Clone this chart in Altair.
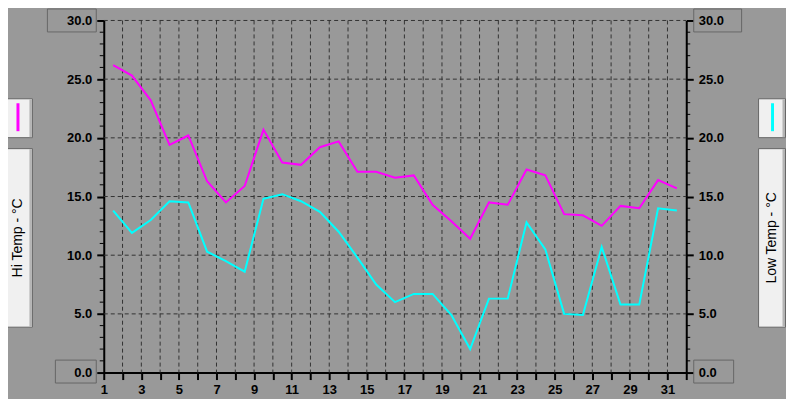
import altair as alt
import pandas as pd

# ---- data ----
days = [1.5, 2.5, 3.5, 4.5, 5.5, 6.5, 7.5, 8.5, 9.5, 10.5, 11.5, 12.5, 13.5, 14.5, 15.5,
        16.5, 17.5, 18.5, 19.5, 20.5, 21.5, 22.5, 23.5, 24.5, 25.5, 26.5, 27.5, 28.5,
        29.5, 30.5, 31.5]
hi_temp = [26.2, 25.3, 23.2, 19.4, 20.2, 16.3, 14.5, 15.9, 20.7, 17.9, 17.7, 19.2, 19.7,
           17.1, 17.1, 16.6, 16.8, 14.3, 12.9, 11.4, 14.5, 14.3, 17.3, 16.8, 13.5, 13.4,
           12.5, 14.2, 14.0, 16.4, 15.7]
low_temp = [13.8, 11.9, 13.0, 14.6, 14.5, 10.3, 9.5, 8.6, 14.8, 15.2, 14.6, 13.7, 12.0,
            9.8, 7.5, 6.0, 6.7, 6.7, 4.9, 2.0, 6.3, 6.3, 12.8, 10.5, 5.0, 4.9, 10.7, 5.8,
            5.8, 14.0, 13.8]
x_ticks = [1, 2, 3, 4, 5, 6, 7, 8, 9, 10, 11, 12, 13, 14, 15, 16, 17, 18, 19, 20, 21, 22,
           23, 24, 25, 26, 27, 28, 29, 30, 31, 32]
x_grid = [2, 3, 4, 5, 6, 7, 8, 9, 10, 11, 12, 13, 14, 15, 16, 17, 18, 19, 20, 21, 22,
          23, 24, 25, 26, 27, 28, 29, 30, 31]
y_major = [0, 5, 10, 15, 20, 25, 30]
y_grid = [5, 10, 15, 20, 25, 30]
y_minor = [1, 2, 3, 4, 6, 7, 8, 9, 11, 12, 13, 14, 16, 17, 18, 19, 21, 22, 23, 24,
           26, 27, 28, 29]
hi_title = "Hi Temp - °C"
low_title = "Low Temp - °C"

df = pd.DataFrame({"day": days, "hi": hi_temp, "low": low_temp})
minor_df = pd.DataFrame({"v": y_minor})
ygrid_df = pd.DataFrame({"v": y_grid})
xgrid_df = pd.DataFrame({"day": x_grid})
one = pd.DataFrame({"k": [0]})

W, H = 584, 353
FONT = "Liberation Sans"
GRID = "#333333"

xscale = alt.Scale(domain=[1, 32], nice=False, zero=False)
yscale = alt.Scale(domain=[0, 30], nice=False, zero=True)

x_axis = alt.Axis(values=x_ticks, tickSize=7, tickWidth=2, tickColor="black",
                  domainColor="black", domainWidth=2, labelPadding=4,
                  labelExpr="datum.value % 2 == 1 ? datum.label : ''",
                  grid=False,
                  labelFont=FONT, labelFontSize=13, labelFontWeight="bold",
                  labelColor="black", labelFlush=False)


def x_enc():
    return alt.X("day:Q", scale=xscale, title=None, axis=x_axis)


def y_axis(orient):
    return alt.Axis(orient=orient, values=y_major, format=".1f", tickSize=7, tickWidth=2,
                    tickColor="black", domainColor="black", domainWidth=2,
                    labelPadding=5, grid=False, labelFont=FONT, labelFontSize=13,
                    labelFontWeight="bold", labelColor="black", labelFlush=False)


left_axis = y_axis("left")
right_axis = y_axis("right")

# grid lines (dashed)
vgrid = alt.Chart(xgrid_df).mark_rule(color=GRID, strokeWidth=1, strokeDash=[4, 3]).encode(
    x=x_enc(), y=alt.value(0), y2=alt.value(H)
)
hgrid = alt.Chart(ygrid_df).mark_rule(color=GRID, strokeWidth=1, strokeDash=[4, 3]).encode(
    y=alt.Y("v:Q", scale=yscale, title=None, axis=left_axis),
    x=alt.value(0), x2=alt.value(W)
)

hi_line = alt.Chart(df).mark_line(color="#ff00ff", strokeWidth=2).encode(
    x=x_enc(),
    y=alt.Y("hi:Q", scale=yscale, title=None, axis=left_axis),
)
left_minor = alt.Chart(minor_df).mark_rule(color="black", strokeWidth=1).encode(
    y=alt.Y("v:Q", scale=yscale, title=None, axis=left_axis),
    x=alt.value(-4), x2=alt.value(0)
)
low_line = alt.Chart(df).mark_line(color="#00ffff", strokeWidth=2).encode(
    x=x_enc(),
    y=alt.Y("low:Q", scale=yscale, title=None, axis=right_axis),
)
right_minor = alt.Chart(minor_df).mark_rule(color="black", strokeWidth=1).encode(
    y=alt.Y("v:Q", scale=yscale, title=None, axis=right_axis),
    x=alt.value(W), x2=alt.value(W + 4)
)

left = alt.layer(hgrid, vgrid, left_minor, hi_line)
right = alt.layer(right_minor, low_line)


def box(x1, x2, y1, y2, fill=None):
    if fill:
        m = alt.Chart(one).mark_rect(fill=fill, stroke="#666666", strokeWidth=1)
    else:
        m = alt.Chart(one).mark_rect(fillOpacity=0, stroke="#666666", strokeWidth=1)
    return m.encode(x=alt.value(x1), x2=alt.value(x2), y=alt.value(y1), y2=alt.value(y2))


def strip(x1, x2, y1, y2):
    return alt.Chart(one).mark_rect(fill="#b4b4b4").encode(
        x=alt.value(x1), x2=alt.value(x2), y=alt.value(y1), y2=alt.value(y2))


def vtext(x, y, s):
    return alt.Chart(one).mark_text(angle=270, font=FONT, fontSize=14, color="black").encode(
        x=alt.value(x), y=alt.value(y), text=alt.value(s))


def sample(x, color):
    return alt.Chart(one).mark_rule(color=color, strokeWidth=3).encode(
        x=alt.value(x), y=alt.value(83), y2=alt.value(111))


decor = [
    # left side panels
    box(-99.5, -71.5, 78.5, 117.5, "#f0f0f0"), strip(-74.5, -72, 79, 117),
    box(-99.5, -71.5, 128.5, 307.5, "#f0f0f0"), strip(-74.5, -72, 129, 307),
    sample(-86, "#ff00ff"), vtext(-85.5, 218, hi_title),
    # right side panels
    box(656.5, 683.5, 78.5, 117.5, "#f0f0f0"), strip(680.5, 683, 79, 117),
    box(656.5, 683.5, 128.5, 307.5, "#f0f0f0"), strip(680.5, 683, 129, 307),
    sample(670.5, "#00ffff"), vtext(670, 218, low_title),
    # min / max value boxes
    box(-56.5, -7.5, -11.5, 11.5), box(-48.5, -7.5, 340.5, 363.5),
    box(591.5, 639.5, -11.5, 11.5), box(591.5, 631.5, 340.5, 363.5),
]

chart = alt.layer(left, right, *decor).resolve_scale(y="independent").properties(
    width=W, height=H,
    background="#999999",
    padding={"left": 96, "top": 12, "right": 100, "bottom": 26},
    autosize=alt.AutoSizeParams(type="none"),
).configure_view(stroke=None)

chart.save("out.html", embed_options={"renderer": "svg", "actions": False})
